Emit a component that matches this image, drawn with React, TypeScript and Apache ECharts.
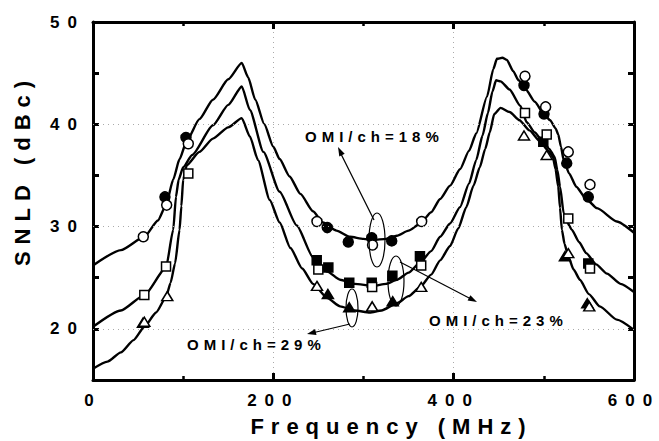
import React, { useEffect, useRef } from 'react';
import * as echarts from 'echarts';

// Fitted curves (Frequency MHz, SNLD dBc)
const curve18 = [
  [0, 26.2], [31, 27.7], [57, 29.0], [72, 30.6], [81, 32.1], [89, 34.6], [96, 36.6], [104, 38.4],
  [118, 40.5], [133, 42.4], [150, 44.4], [165, 46.0], [172, 44.6], [180, 42.4], [190, 40.0],
  [200, 37.8], [207, 36.6], [218, 34.9], [230, 33.2], [244, 31.5], [255, 30.4], [270, 29.6],
  [285, 29.0], [300, 28.8], [311, 28.7], [325, 28.8], [337, 29.1], [350, 29.6], [363, 30.3],
  [375, 31.4], [385, 32.7], [396, 34.0], [407, 35.6], [417, 37.4], [425, 39.1], [437, 42.7],
  [444, 45.4], [448, 46.4], [454, 46.5], [459, 46.3], [466, 45.2], [472, 44.3], [480, 43.4],
  [490, 42.2], [500, 41.0], [507, 40.4], [513, 39.6], [516, 39.0], [519, 37.8], [522, 36.5],
  [528, 35.2], [536, 33.9], [547, 32.7], [559, 31.8], [581, 30.5], [600, 29.4]
];
const curve23 = [
  [0, 20.2], [31, 21.8], [57, 23.3], [81, 26.0], [89, 29.7], [92, 32.9], [95, 34.6], [100, 35.8],
  [110, 37.0], [133, 39.9], [150, 41.9], [165, 43.7], [174, 41.4], [189, 37.3], [207, 33.4],
  [226, 30.1], [244, 27.0], [260, 25.6], [274, 24.8], [290, 24.4], [311, 24.2], [325, 24.4],
  [337, 24.8], [350, 25.5], [363, 26.5], [375, 27.6], [385, 29.0], [396, 30.3], [407, 31.9],
  [417, 34.2], [425, 36.5], [432, 38.9], [438, 41.1], [443, 43.2], [447, 44.3], [452, 44.2],
  [462, 43.4], [474, 41.8], [481, 40.2], [490, 39.2], [499, 38.3], [506, 37.6], [512, 36.8],
  [515, 35.5], [518, 33.9], [522, 31.3], [526, 30.4], [531, 29.7], [539, 28.5], [547, 27.4],
  [558, 26.3], [570, 25.4], [585, 24.4], [600, 23.6]
];
const curve29 = [
  [0, 16.1], [16, 16.8], [31, 17.7], [45, 18.9], [57, 20.2], [70, 21.6], [81, 23.1], [86, 24.5],
  [91, 26.4], [96, 29.7], [98, 32.0], [100, 34.6], [104, 36.0], [118, 37.3], [133, 38.6],
  [150, 39.7], [165, 40.6], [174, 38.8], [183, 36.5], [196, 32.6], [207, 30.4], [219, 27.9],
  [232, 25.9], [244, 24.4], [260, 23.0], [274, 22.2], [290, 21.8], [307, 21.6], [320, 21.8],
  [337, 22.5], [350, 23.2], [363, 24.1], [375, 25.3], [385, 26.7], [396, 28.1], [405, 29.8],
  [414, 31.9], [422, 34.0], [429, 35.8], [435, 37.6], [440, 39.2], [445, 41.0], [452, 41.6],
  [462, 41.2], [473, 40.4], [484, 39.4], [496, 38.3], [505, 37.4], [510, 36.8], [513, 35.6],
  [516, 33.9], [518, 31.8], [520, 29.7], [523, 28.3], [527, 27.1], [533, 25.8], [540, 24.8],
  [550, 23.4], [562, 22.2], [581, 20.9], [600, 19.9]
];

// Measured points
const openCircles18 = [
  [55.8, 29.0], [81.7, 32.1], [105.7, 38.1], [248.4, 30.5], [310.0, 28.2], [364.5, 30.5],
  [479.1, 44.7], [502.0, 41.7], [527.1, 37.3], [551.2, 34.1]
];
const filledCircles18 = [
  [79.8, 32.9], [103.1, 38.7], [259.8, 29.9], [283.1, 28.5], [309.1, 28.9], [331.3, 28.6],
  [478.0, 43.8], [500.2, 41.0], [525.4, 36.2], [549.3, 32.9]
];
const openSquares23 = [
  [56.9, 23.3], [81.0, 26.1], [105.7, 35.2], [249.9, 25.8], [309.6, 24.1], [364.0, 26.2],
  [479.1, 41.1], [503.2, 39.0], [527.1, 30.8], [551.2, 25.9]
];
const filledSquares23 = [
  [248.1, 26.7], [261.0, 26.0], [284.2, 24.5], [309.1, 24.5], [332.0, 25.2], [362.6, 27.1],
  [499.4, 38.3], [549.3, 26.4]
];
const openTriangles29 = [
  [56.9, 20.7], [82.4, 23.2], [248.4, 24.2], [309.6, 22.2], [364.0, 24.1], [478.0, 38.9],
  [503.2, 37.0], [527.1, 27.4], [550.4, 22.2]
];
const filledTriangles29 = [
  [55.4, 20.6], [260.5, 23.4], [284.2, 22.1], [332.4, 22.7], [523.4, 27.1], [548.2, 22.5]
];

const yLabelValues = [20, 30, 40, 50];
const yGridValues = [20, 30, 40];
const xName = 'Frequency (MHz)';
const yName = 'SNLD (dBc)';
const labels = ['OMI/ch=18%', 'OMI/ch=23%', 'OMI/ch=29%'];

const FONT = '"Liberation Sans", Arial, sans-serif';

const css = `
#chartbox text[style*="17px"]{letter-spacing:8px;}
#chartbox text[style*="22px"]{letter-spacing:7px;}
#chartbox text[style*="15px"]{letter-spacing:5px;}
`;

export default function App() {
  const ref = useRef<HTMLDivElement>(null);
  useEffect(() => {
    const chart = echarts.init(ref.current!, null, { renderer: 'svg' });
    const axisLine = { show: true, onZero: false, lineStyle: { color: '#000', width: 3 } };
    const xTick = { show: true, inside: true, length: 7, lineStyle: { color: '#000', width: 3 } };
    const xMinor = { show: true, splitNumber: 2, length: 4, lineStyle: { color: '#000', width: 2.5 } };
    const yTick = { show: true, inside: true, length: 6, lineStyle: { color: '#000', width: 3 } };
    const tickLabel = { color: '#000', fontSize: 17, fontWeight: 'bold', fontFamily: FONT };

    const lineSeries = (name: string, data: number[][], extra: any = {}) => ({
      name, type: 'line', data, smooth: 0.2, smoothMonotone: 'x', showSymbol: false, symbol: 'none',
      lineStyle: { color: '#000', width: 2.4 }, z: 2, silent: true, ...extra
    });
    const scatter = (name: string, data: number[][], symbol: string, filled: boolean, size: any) => ({
      name, type: 'scatter', data, symbol, symbolSize: size, z: filled ? 3 : 4, silent: true,
      itemStyle: { color: filled ? '#000' : '#fff', borderColor: '#000', borderWidth: 1.5, opacity: 1 }
    });

    const annStyle = (text: string) => ({
      text, fill: '#000', font: `bold 15px ${FONT}`, textAlign: 'left', textVerticalAlign: 'middle'
    });
    const thin = { stroke: '#000', lineWidth: 1.2, fill: 'none' };

    chart.setOption({
      animation: false,
      backgroundColor: '#fff',
      grid: { left: 93, right: 25, top: 22, bottom: 61, containLabel: false },
      xAxis: [
        {
          type: 'value', min: 0, max: 600, interval: 200, position: 'bottom',
          axisLine, axisTick: xTick, minorTick: xMinor,
          axisLabel: { ...tickLabel, margin: 12 },
          splitLine: { show: true, lineStyle: { color: '#aaa', width: 1, type: [1, 4] } }
        },
        {
          type: 'value', min: 0, max: 600, interval: 200, position: 'top',
          axisLine, axisTick: xTick, minorTick: xMinor,
          axisLabel: { show: false }, splitLine: { show: false }
        }
      ],
      yAxis: [
        {
          type: 'value', min: 15, max: 50, interval: 5, position: 'left',
          axisLine, axisTick: yTick,
          axisLabel: {
            ...tickLabel, margin: 8,
            formatter: (v: number) => (yLabelValues.includes(v) ? String(v) : '')
          },
          splitLine: { show: false }
        },
        {
          type: 'value', min: 15, max: 50, interval: 5, position: 'right',
          axisLine, axisTick: yTick, axisLabel: { show: false }, splitLine: { show: false }
        }
      ],
      series: [
        lineSeries('OMI/ch=18% fit', curve18, {
          markLine: {
            silent: true, symbol: 'none', label: { show: false },
            lineStyle: { color: '#aaa', width: 1, type: [1, 4] },
            data: yGridValues.map((v) => ({ yAxis: v }))
          }
        }),
        lineSeries('OMI/ch=23% fit', curve23),
        lineSeries('OMI/ch=29% fit', curve29),
        scatter('18% filled', filledCircles18, 'circle', true, 10),
        scatter('18% open', openCircles18, 'circle', false, 10),
        scatter('23% filled', filledSquares23, 'rect', true, 9),
        scatter('23% open', openSquares23, 'rect', false, 9),
        scatter('29% filled', filledTriangles29, 'triangle', true, [11, 9]),
        scatter('29% open', openTriangles29, 'triangle', false, [11, 9])
      ],
      graphic: [
        // axis names
        {
          type: 'text', x: 391.5, y: 426, z: 10,
          style: { text: xName, fill: '#000', font: `bold 22px ${FONT}`, textAlign: 'center', textVerticalAlign: 'middle' }
        },
        {
          type: 'text', x: 22, y: 170, rotation: Math.PI / 2, z: 10,
          style: { text: yName, fill: '#000', font: `bold 22px ${FONT}`, textAlign: 'center', textVerticalAlign: 'middle' }
        },
        // 18% annotation
        { type: 'text', x: 305, y: 136, z: 10, style: annStyle(labels[0]) },
        { type: 'line', z: 10, shape: { x1: 374, y1: 220, x2: 340, y2: 152 }, style: thin },
        { type: 'polygon', z: 10, shape: { points: [[338, 147], [344.7, 153.8], [339.3, 156.4]] }, style: { fill: '#000' } },
        { type: 'ellipse', z: 10, shape: { cx: 377, cy: 240, rx: 8, ry: 27 }, style: thin },
        // 23% annotation
        { type: 'text', x: 429, y: 320, z: 10, style: annStyle(labels[1]) },
        { type: 'line', z: 10, shape: { x1: 400, y1: 262, x2: 472, y2: 299.5 }, style: thin },
        { type: 'polygon', z: 10, shape: { points: [[477, 302], [467.6, 300.5], [470.4, 295.2]] }, style: { fill: '#000' } },
        { type: 'ellipse', z: 10, shape: { cx: 396, cy: 281, rx: 8, ry: 25 }, style: thin },
        // 29% annotation
        { type: 'text', x: 187, y: 344, z: 10, style: annStyle(labels[2]) },
        { type: 'line', z: 10, shape: { x1: 350, y1: 324, x2: 312, y2: 333 }, style: thin },
        { type: 'polygon', z: 10, shape: { points: [[307, 334], [315.1, 329.1], [316.5, 334.9]] }, style: { fill: '#000' } },
        { type: 'ellipse', z: 10, shape: { cx: 352, cy: 308, rx: 6, ry: 19 }, style: thin }
      ]
    });
    return () => chart.dispose();
  }, []);

  return (
    <>
      <style>{css}</style>
      <div
        id="chartbox"
        ref={ref}
        style={{ position: 'fixed', left: 0, top: 0, width: 659, height: 441, background: '#fff' }}
      />
    </>
  );
}
